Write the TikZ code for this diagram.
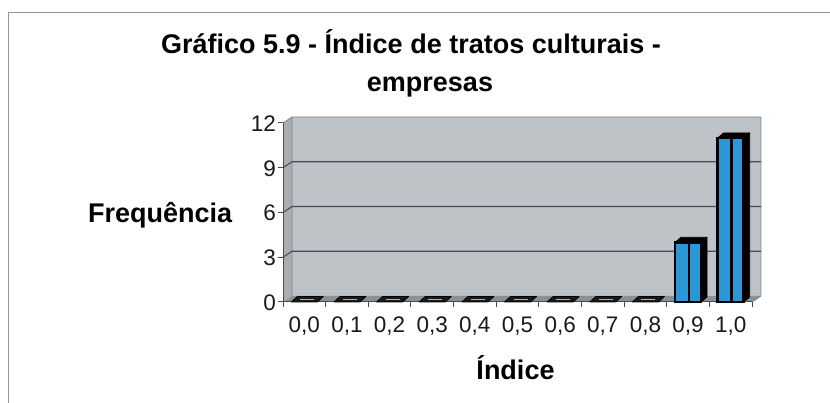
\documentclass[tikz,border=0pt]{standalone}
\usepackage{fontspec}
\setmainfont{Liberation Sans}
\definecolor{wallc}{RGB}{190,195,200}
\definecolor{sidec}{RGB}{168,174,178}
\definecolor{floorc}{RGB}{138,145,150}
\definecolor{gridc}{RGB}{70,76,82}
\definecolor{barblue}{RGB}{45,150,215}
\definecolor{framec}{RGB}{150,150,150}
\begin{document}
\begin{tikzpicture}[x=1pt,y=-1pt,
  declare function={fy(\v)=302-14.9167*\v;},
  titletext/.style={font=\fontsize{27}{32}\selectfont\bfseries, inner sep=0pt},
  ticklab/.style={font=\fontsize{22.5}{25}\selectfont, inner sep=0pt, text=black!90},
  gridline/.style={draw=gridc, line width=1.1pt},
  axisline/.style={draw=gridc, line width=1pt},
  barfront/.style={fill=barblue, draw=black, line width=2.4pt},
  bardark/.style={fill=black, draw=black, line width=0.8pt, line join=round},
  zerobar/.style={fill=black!90, draw=black, line width=0.8pt, line join=round}]
\useasboundingbox (0,0) rectangle (830,403);
\fill[white] (0,0) rectangle (830,403);
% frame
\draw[framec, line width=1.2pt] (8.5,403) -- (8.5,12.5) -- (830,12.5);
% walls
\fill[wallc] (292,117) rectangle (761,296);
\fill[sidec] (283,302) -- (292,296) -- (292,117) -- (283,123) -- cycle;
\fill[floorc] (283,302) -- (752,302) -- (761,296) -- (292,296) -- cycle;
\draw[draw=gridc!70, line width=0.8pt] (292,296) -- (292,117) -- (761,117) -- (761,296) -- (752,302);
\draw[draw=gridc!70, line width=0.8pt] (283,123) -- (292,117);
% gridlines
\foreach \v in {3,6,9} {
  \draw[gridline] (283,{fy(\v)}) -- (292,{fy(\v)-6}) -- (761,{fy(\v)-6});
}
% axes
\draw[axisline] (283,123) -- (283,302) -- (752,302);
\foreach \v in {0,3,6,9,12} {
  \draw[axisline] (278,{fy(\v)}) -- (283,{fy(\v)});
}
\foreach \k in {0,...,11} {
  \draw[axisline] ({283+\k*42.636},302) -- ({283+\k*42.636},307);
}
% zero bars
\foreach \i in {0,...,8} {
  \pgfmathsetmacro{\xc}{283+(\i+0.5)*42.636}
  \draw[zerobar] ({\xc-13},302) -- ({\xc+13},302) -- ({\xc+19},296.5) -- ({\xc-7},296.5) -- cycle;
  \draw[gray!60, line width=0.6pt] ({\xc-4},299.3) -- ({\xc+10},299.3);
}
% bars 0,9 (4) and 1,0 (11)
\foreach \i/\v in {9/4, 10/11} {
  \pgfmathsetmacro{\xc}{283+(\i+0.5)*42.636}
  \pgfmathsetmacro{\yt}{fy(\v)}
  \draw[bardark] ({\xc-13},\yt) -- ({\xc+13},\yt) -- ({\xc+19},\yt-5) -- ({\xc-7},\yt-5) -- cycle;
  \draw[bardark] ({\xc+13},302) -- ({\xc+13},\yt) -- ({\xc+19},\yt-5) -- ({\xc+19},297) -- cycle;
  \draw[barfront] ({\xc-13},\yt) rectangle ({\xc+13},302);
  \draw[black, line width=2.4pt] ({\xc+1},\yt) -- ({\xc+1},302);
}
% y tick labels
\foreach \v in {0,3,6,9,12} {
  \node[ticklab, anchor=base east] (ylab\v) at (276,{fy(\v)+8.5}) {\v};
}
% x tick labels
\foreach \i/\t in {0/{0,0},1/{0,1},2/{0,2},3/{0,3},4/{0,4},5/{0,5},6/{0,6},7/{0,7},8/{0,8},9/{0,9},10/{1,0}} {
  \node[ticklab, anchor=base] (xlab\i) at ({283+(\i+0.5)*42.636},333) {\t};
}
% titles
\node[titletext, anchor=base] (title1) at (411,54) {Gráfico 5.9 - Índice de tratos culturais -};
\node[titletext, anchor=base] (title2) at (430,92) {empresas};
\node[titletext, anchor=base west] (ytitle) at (88,223) {Frequência};
\node[titletext, anchor=base] (xtitle) at (515.5,379) {Índice};
\end{tikzpicture}
\end{document}
